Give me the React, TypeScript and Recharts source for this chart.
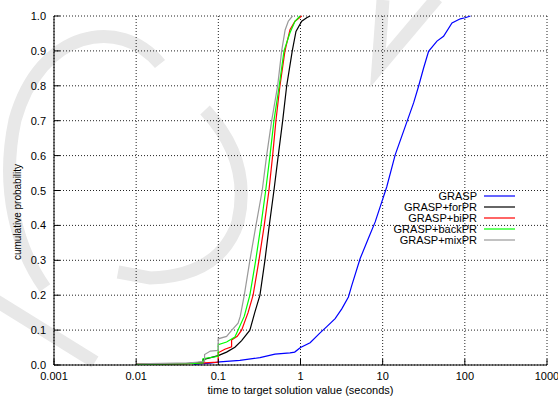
import { LineChart, Line, XAxis, YAxis, CartesianGrid, Legend } from "recharts";

const FONT = "'Liberation Sans', Arial, sans-serif";

// x axis: log decades
const xMajor = [0.001, 0.01, 0.1, 1, 10, 100, 1000];
const xMajorLabels = ["0.001", "0.01", "0.1", "1", "10", "100", "1000"];
const xMinor = [0.001, 0.01, 0.1, 1, 10, 100].flatMap((d) =>
  [2, 3, 4, 5, 6, 7, 8, 9].map((k) => k * d)
);
const yTicks = [0, 0.1, 0.2, 0.3, 0.4, 0.5, 0.6, 0.7, 0.8, 0.9, 1];

// [time (s), cumulative probability]
const grasp: [number, number][] = [
  [0.05, 0.002], [0.079, 0.005], [0.104, 0.009], [0.183, 0.013], [0.321, 0.021],
  [0.489, 0.031], [0.745, 0.035], [0.85, 0.037], [1.0, 0.05], [1.31, 0.064],
  [1.73, 0.092], [2.09, 0.11], [2.64, 0.133], [3.18, 0.161], [3.83, 0.195],
  [4.21, 0.228], [5.32, 0.305], [6.71, 0.363], [8.11, 0.41], [9.78, 0.468],
  [11.2, 0.51], [14.2, 0.602], [18.8, 0.683], [23.8, 0.751], [27.3, 0.798],
  [31.5, 0.851], [36.2, 0.899], [45.8, 0.928], [55.1, 0.942], [69.8, 0.98],
  [88.1, 0.992], [101, 0.995], [117, 1.0],
];
const forPR: [number, number][] = [
  [0.01, 0.002], [0.04, 0.004], [0.065, 0.008], [0.065, 0.015], [0.0996, 0.027],
  [0.126, 0.037], [0.159, 0.051], [0.192, 0.07], [0.242, 0.1], [0.279, 0.152],
  [0.321, 0.2], [0.369, 0.3], [0.417, 0.4], [0.475, 0.5], [0.536, 0.6],
  [0.607, 0.7], [0.679, 0.8], [0.794, 0.9], [0.881, 0.956], [1.035, 0.985],
  [1.19, 0.995], [1.31, 1.0],
];
const biPR: [number, number][] = [
  [0.01, 0.003], [0.045, 0.004], [0.0996, 0.008], [0.0996, 0.035], [0.12, 0.045],
  [0.145, 0.052], [0.145, 0.072], [0.17, 0.082], [0.192, 0.1], [0.23, 0.15],
  [0.265, 0.2], [0.312, 0.3], [0.362, 0.4], [0.413, 0.5], [0.458, 0.6],
  [0.502, 0.7], [0.562, 0.8], [0.647, 0.9], [0.745, 0.961], [0.857, 0.985],
  [1.035, 1.0],
];
const backPR: [number, number][] = [
  [0.01, 0.002], [0.045, 0.004], [0.065, 0.006], [0.065, 0.018], [0.0996, 0.025],
  [0.0996, 0.058], [0.126, 0.066], [0.159, 0.08], [0.174, 0.1], [0.207, 0.14],
  [0.242, 0.2], [0.285, 0.3], [0.33, 0.4], [0.377, 0.5], [0.425, 0.6],
  [0.475, 0.7], [0.551, 0.8], [0.63, 0.9], [0.745, 0.952], [0.857, 0.985],
  [0.986, 1.0],
];
const mixPR: [number, number][] = [
  [0.01, 0.003], [0.045, 0.006], [0.068, 0.01], [0.068, 0.03], [0.08, 0.04],
  [0.0996, 0.042], [0.0996, 0.075], [0.126, 0.082], [0.145, 0.099], [0.174, 0.12],
  [0.185, 0.14], [0.207, 0.2], [0.242, 0.3], [0.287, 0.4], [0.342, 0.5],
  [0.387, 0.6], [0.446, 0.7], [0.527, 0.8], [0.59, 0.9], [0.65, 0.96],
  [0.71, 0.985], [0.8, 1.0],
];

const series = [
  { name: "GRASP", color: "#0000ff", data: grasp },
  { name: "GRASP+forPR", color: "#000000", data: forPR },
  { name: "GRASP+biPR", color: "#ff0000", data: biPR },
  { name: "GRASP+backPR", color: "#00ff00", data: backPR },
  { name: "GRASP+mixPR", color: "#999999", data: mixPR },
];

const xLabel = (v: number) => {
  const i = xMajor.findIndex((m) => Math.abs(Math.log10(m) - Math.log10(v)) < 1e-6);
  return i >= 0 ? xMajorLabels[i] : "";
};

const BottomTick = ({ x, y, payload }: any) => (
  <g>
    <line x1={x} y1={y} x2={x} y2={y - 6} stroke="#000" />
    <text x={x} y={y + 15} textAnchor="middle" fontSize={11} fontFamily={FONT} fill="#000">
      {xLabel(payload.value)}
    </text>
  </g>
);
const BottomMinor = ({ x, y }: any) => <line x1={x} y1={y} x2={x} y2={y - 3} stroke="#000" />;
const TopTick = ({ x, y }: any) => <line x1={x} y1={y} x2={x} y2={y + 6} stroke="#000" />;
const TopMinor = ({ x, y }: any) => <line x1={x} y1={y} x2={x} y2={y + 3} stroke="#000" />;
const LeftTick = ({ x, y, payload }: any) => (
  <g>
    <line x1={x} y1={y} x2={x + 6} y2={y} stroke="#000" />
    <text x={x - 8} y={y + 4} textAnchor="end" fontSize={11} fontFamily={FONT} fill="#000">
      {payload.value.toFixed(1)}
    </text>
  </g>
);
const RightTick = ({ x, y }: any) => <line x1={x} y1={y} x2={x - 6} y2={y} stroke="#000" />;

const XTitle = ({ viewBox }: any) => (
  <text
    x={viewBox.x + viewBox.width / 2}
    y={394}
    textAnchor="middle"
    fontSize={11}
    fontFamily={FONT}
    fill="#000"
  >
    time to target solution value (seconds)
  </text>
);
const YTitle = () => (
  <text
    x={17}
    y={212}
    transform="rotate(-90 17 212)"
    textAnchor="middle"
    dominantBaseline="central"
    fontSize={10}
    fontFamily={FONT}
    fill="#000"
  >
    cumulative probability
  </text>
);

// legend drawn in series order (gnuplot style: text, then line sample)
const renderLegend = () => (
  <svg width={150} height={60} style={{ display: "block" }}>
    {series.map((s, i) => (
      <g key={s.name}>
        <text
          x={110}
          y={6 + i * 11 + 4}
          textAnchor="end"
          fontSize={11}
          fontFamily={FONT}
          fill="#000"
        >
          {s.name}
        </text>
        <line x1={117} y1={6 + i * 11} x2={148} y2={6 + i * 11} stroke={s.color} strokeWidth={1.2} />
      </g>
    ))}
  </svg>
);

export default function App() {
  return (
    <div style={{ position: "absolute", left: 0, top: 0, width: 558, height: 396, background: "#fff" }}>
      {/* faint watermark behind the plot */}
      <svg width={558} height={396} style={{ position: "absolute", left: 0, top: 0 }}>
        <g fill="none" stroke="#e8e8e8" strokeWidth={13}>
          <path d="M 160 64 C 120 15, 40 30, 15 120 C 0 190, 18 250, 45 288" />
          <path d="M 205 110 Q 252 160 238 222 Q 220 276 150 278 L 118 272" />
          <path d="M -5 300 L 95 362" />
          <path d="M 383 0 L 378 68 L 437 -2" />
        </g>
      </svg>
      <div style={{ position: "absolute", left: 0, top: 0 }}>
        <LineChart width={558} height={396} margin={{ top: 16, right: 11, left: 0, bottom: 0 }}>
          <CartesianGrid stroke="#222" strokeDasharray="1 2" />
          <XAxis
            xAxisId="bmin"
            type="number"
            dataKey="t"
            scale="log"
            domain={[0.001, 1000]}
            allowDataOverflow
            ticks={xMinor}
            interval={0}
            height={0}
            tickSize={0}
            tickMargin={0}
            axisLine={false}
            tickLine={false}
            tick={<BottomMinor />}
          />
          <XAxis
            type="number"
            dataKey="t"
            scale="log"
            domain={[0.001, 1000]}
            allowDataOverflow
            ticks={xMajor}
            interval={0}
            height={31}
            tickSize={0}
            tickMargin={0}
            axisLine={{ stroke: "#000" }}
            tickLine={false}
            tick={<BottomTick />}
            label={<XTitle />}
          />
          <XAxis
            xAxisId="top"
            orientation="top"
            type="number"
            dataKey="t"
            scale="log"
            domain={[0.001, 1000]}
            allowDataOverflow
            ticks={xMajor}
            interval={0}
            height={0}
            tickSize={0}
            tickMargin={0}
            axisLine={{ stroke: "#000" }}
            tickLine={false}
            tick={<TopTick />}
          />
          <XAxis
            xAxisId="tmin"
            orientation="top"
            type="number"
            dataKey="t"
            scale="log"
            domain={[0.001, 1000]}
            allowDataOverflow
            ticks={xMinor}
            interval={0}
            height={0}
            tickSize={0}
            tickMargin={0}
            axisLine={false}
            tickLine={false}
            tick={<TopMinor />}
          />
          <YAxis
            type="number"
            domain={[0, 1]}
            ticks={yTicks}
            interval={0}
            width={54}
            tickSize={0}
            tickMargin={0}
            axisLine={{ stroke: "#000" }}
            tickLine={false}
            tick={<LeftTick />}
            label={<YTitle />}
          />
          <YAxis
            yAxisId="right"
            orientation="right"
            type="number"
            domain={[0, 1]}
            ticks={yTicks}
            interval={0}
            width={0}
            tickSize={0}
            tickMargin={0}
            axisLine={{ stroke: "#000" }}
            tickLine={false}
            tick={<RightTick />}
          />
          <Legend
            layout="vertical"
            verticalAlign="middle"
            align="center"
            content={renderLegend}
            wrapperStyle={{ left: 367, top: 190, width: 150 }}
          />
          {series.map((s) => (
            <Line
              key={s.name}
              name={s.name}
              data={s.data.map(([t, p]) => ({ t, p }))}
              dataKey="p"
              type="linear"
              stroke={s.color}
              strokeWidth={1.2}
              dot={false}
              activeDot={false}
              isAnimationActive={false}
            />
          ))}
        </LineChart>
      </div>
    </div>
  );
}
